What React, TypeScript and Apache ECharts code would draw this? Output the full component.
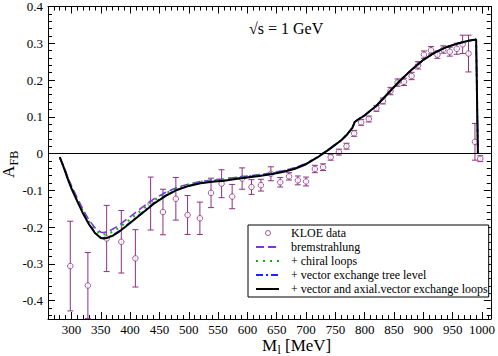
import React, { useEffect, useRef } from 'react';
import * as echarts from 'echarts';

const FAMILY = "'Liberation Serif', 'Times New Roman', serif";
const FONT = "'Liberation Serif', serif";

// KLOE data points: invariant mass M_l [MeV], A_FB, error
const dataMass = [298, 328, 360, 385, 409, 435, 456, 478, 498, 519, 538, 556, 574, 591, 607, 623, 640, 656, 671, 686, 700, 715, 729, 742, 756, 769, 782, 794, 807, 820, 831, 844, 856, 867, 880, 891, 901, 913, 924, 934, 945, 957, 967, 977, 988, 997];
const dataAfb = [-0.306, -0.359, -0.231, -0.240, -0.285, -0.136, -0.159, -0.123, -0.167, -0.176, -0.107, -0.082, -0.117, -0.068, -0.091, -0.086, -0.055, -0.078, -0.062, -0.073, -0.076, -0.042, -0.037, -0.010, 0.004, 0.020, 0.055, 0.085, 0.094, 0.123, 0.143, 0.170, 0.193, 0.195, 0.211, 0.240, 0.269, 0.281, 0.269, 0.283, 0.277, 0.285, 0.297, 0.272, 0.032, -0.014];
const dataErr = [0.122, 0.09, 0.09, 0.085, 0.078, 0.072, 0.062, 0.058, 0.053, 0.044, 0.04, 0.038, 0.033, 0.029, 0.02, 0.016, 0.019, 0.013, 0.01, 0.012, 0.012, 0.01, 0.009, 0.008, 0.008, 0.008, 0.008, 0.008, 0.008, 0.008, 0.008, 0.01, 0.01, 0.01, 0.01, 0.01, 0.01, 0.01, 0.01, 0.01, 0.012, 0.015, 0.025, 0.05, 0.05, 0.008];

// theory curves
const curveMass = [280, 285, 290, 295, 300, 310, 320, 330, 340, 350, 355, 360, 370, 380, 390, 400, 420, 440, 460, 480, 500, 520, 540, 560, 580, 600, 620, 640, 660, 680, 700, 720, 740, 760, 770, 779, 783, 790, 800, 820, 840, 860, 880, 900, 920, 940, 960, 977, 990, 993];
const loopsAfb = [-0.010, -0.030, -0.052, -0.075, -0.095, -0.130, -0.164, -0.193, -0.216, -0.230, -0.231, -0.230, -0.224, -0.214, -0.202, -0.189, -0.163, -0.137, -0.116, -0.099, -0.088, -0.081, -0.077, -0.074, -0.069, -0.065, -0.061, -0.056, -0.050, -0.042, -0.029, -0.010, 0.012, 0.036, 0.052, 0.070, 0.086, 0.094, 0.104, 0.130, 0.164, 0.198, 0.228, 0.255, 0.275, 0.290, 0.300, 0.307, 0.310, 0.000];
const bremsAfb = [-0.010, -0.028, -0.048, -0.069, -0.088, -0.121, -0.153, -0.181, -0.202, -0.214, -0.215, -0.213, -0.206, -0.196, -0.184, -0.172, -0.147, -0.124, -0.106, -0.092, -0.083, -0.076, -0.072, -0.069, -0.065, -0.061, -0.057, -0.053, -0.047, -0.039, -0.027, -0.009, 0.013, 0.036, 0.052, 0.070, 0.086, 0.094, 0.104, 0.130, 0.164, 0.198, 0.228, 0.255, 0.275, 0.290, 0.300, 0.307, 0.310, 0.000];
const chiralAfb = [-0.010, -0.029, -0.050, -0.072, -0.091, -0.125, -0.158, -0.186, -0.207, -0.219, -0.220, -0.219, -0.213, -0.203, -0.191, -0.179, -0.153, -0.128, -0.109, -0.094, -0.084, -0.077, -0.073, -0.070, -0.066, -0.062, -0.058, -0.054, -0.048, -0.040, -0.028, -0.009, 0.013, 0.036, 0.052, 0.070, 0.086, 0.094, 0.104, 0.130, 0.164, 0.198, 0.228, 0.255, 0.275, 0.290, 0.300, 0.307, 0.310, 0.000];
const vectorTreeAfb = [-0.010, -0.030, -0.051, -0.074, -0.094, -0.129, -0.162, -0.191, -0.214, -0.228, -0.229, -0.228, -0.222, -0.212, -0.200, -0.187, -0.161, -0.135, -0.114, -0.098, -0.087, -0.080, -0.076, -0.073, -0.068, -0.064, -0.060, -0.055, -0.049, -0.041, -0.028, -0.009, 0.013, 0.036, 0.052, 0.070, 0.086, 0.094, 0.104, 0.130, 0.164, 0.198, 0.228, 0.255, 0.275, 0.290, 0.300, 0.307, 0.310, 0.000];

const seriesNames = ['KLOE data', 'bremstrahlung', '+ chiral loops', '+ vector exchange tree level', '+ vector and axial.vector exchange loops'];

const X_MIN = 260;
const X_MAX = 1015;
const Y_MIN = -0.45;
const Y_MAX = 0.4;

const PURPLE = '#8a3480';

function pairs(ys: number[]) {
  return curveMass.map((m, i) => [m, ys[i]]);
}

function baseAxis(extra: any) {
  return {
    type: 'value',
    axisLine: { show: true, onZero: false, lineStyle: { color: '#000', width: 1 } },
    axisTick: { show: true, inside: true, length: 7, lineStyle: { color: '#000', width: 1 } },
    minorTick: { show: true, splitNumber: 5, length: 4, lineStyle: { color: '#000', width: 1 } },
    splitLine: { show: false },
    minorSplitLine: { show: false },
    ...extra,
  };
}

const hiddenSymbol = { color: 'rgba(0,0,0,0)', borderWidth: 0, opacity: 0 };

export default function App() {
  const ref = useRef<HTMLDivElement>(null);
  useEffect(() => {
    document.body.style.margin = '0';
    const chart = echarts.init(ref.current!, null, { renderer: 'svg' });
    const errData = dataMass.map((m, i) => [m, dataAfb[i] - dataErr[i], dataAfb[i] + dataErr[i]]);
    const option: any = {
      animation: false,
      backgroundColor: '#fff',
      textStyle: { fontFamily: FAMILY },
      grid: { left: 48, right: 7, top: 5, bottom: 37 },
      xAxis: [
        baseAxis({
          min: X_MIN, max: X_MAX, splitNumber: 16, position: 'bottom',
          axisLabel: {
            show: true, showMinLabel: false, showMaxLabel: false, margin: 4, color: '#000',
            fontFamily: FAMILY, fontSize: 13, formatter: (v: number) => String(v),
          },
        }),
        baseAxis({
          min: X_MIN, max: X_MAX, splitNumber: 16, position: 'top',
          axisLabel: { show: false },
        }),
      ],
      yAxis: [
        baseAxis({
          min: Y_MIN, max: Y_MAX, splitNumber: 9, position: 'left',
          axisLabel: { show: true, showMinLabel: false, showMaxLabel: true, margin: 5, color: '#000', fontFamily: FAMILY, fontSize: 13 },
        }),
        baseAxis({
          min: Y_MIN, max: Y_MAX, splitNumber: 9, position: 'right',
          axisLabel: { show: false },
        }),
      ],
      legend: {
        orient: 'vertical',
        left: 248,
        top: 225,
        padding: [2, 1, 2, 7],
        itemWidth: 23,
        itemHeight: 10,
        itemGap: 2,
        borderColor: '#000',
        borderWidth: 1,
        borderRadius: 0,
        backgroundColor: '#fff',
        selectedMode: false,
        textStyle: { fontFamily: FAMILY, fontSize: 12, color: '#000', lineHeight: 12, padding: [0, 0, 0, 7] },
        data: [
          { name: seriesNames[0], icon: 'path://M0,0 M23,10 M9.5,5 A2.5,2.5 0 1 0 14.5,5 A2.5,2.5 0 1 0 9.5,5 Z', itemStyle: { color: '#fff', borderColor: PURPLE, borderWidth: 1 } },
          { name: seriesNames[1], itemStyle: hiddenSymbol },
          { name: seriesNames[2], itemStyle: hiddenSymbol },
          { name: seriesNames[3], itemStyle: hiddenSymbol },
          { name: seriesNames[4], itemStyle: hiddenSymbol },
        ],
      },
      graphic: [
        {
          type: 'text', left: 249, top: 20, z: 10,
          style: { text: '√s = 1 GeV', font: `16px ${FONT}`, fill: '#000' },
        },
        {
          type: 'group', x: 262, y: 337, z: 10,
          children: [
            { type: 'text', x: 0, y: 0, style: { text: 'M', font: `17px ${FONT}`, fill: '#000', textVerticalAlign: 'top' } },
            { type: 'text', x: 15.5, y: 7, style: { text: 'l', font: `12px ${FONT}`, fill: '#000', textVerticalAlign: 'top' } },
            { type: 'text', x: 23, y: 0, style: { text: '[MeV]', font: `17px ${FONT}`, fill: '#000', textVerticalAlign: 'top' } },
          ],
        },
        {
          type: 'group', x: 8, y: 178, rotation: Math.PI / 2, z: 10,
          children: [
            { type: 'text', x: 0, y: 0, style: { text: 'A', font: `17px ${FONT}`, fill: '#000', textVerticalAlign: 'middle' } },
            { type: 'text', x: 12.5, y: 6, style: { text: 'FB', font: `12px ${FONT}`, fill: '#000', textVerticalAlign: 'middle' } },
          ],
        },
      ],
      series: [
        {
          name: 'errorbars',
          type: 'custom',
          silent: true,
          z: 2,
          data: errData,
          encode: { x: 0, y: [1, 2] },
          renderItem: (params: any, api: any) => {
            const cs = params.coordSys;
            const lo = api.coord([api.value(0), api.value(1)]);
            const hi = api.coord([api.value(0), api.value(2)]);
            const x = lo[0];
            const top = Math.max(hi[1], cs.y);
            const bot = Math.min(lo[1], cs.y + cs.height);
            const style = { stroke: PURPLE, lineWidth: 1 };
            const children: any[] = [
              { type: 'line', shape: { x1: x, y1: top, x2: x, y2: bot }, style },
            ];
            if (hi[1] >= cs.y) children.push({ type: 'line', shape: { x1: x - 3, y1: hi[1], x2: x + 3, y2: hi[1] }, style });
            if (lo[1] <= cs.y + cs.height) children.push({ type: 'line', shape: { x1: x - 3, y1: lo[1], x2: x + 3, y2: lo[1] }, style });
            return { type: 'group', children };
          },
        },
        {
          name: seriesNames[0],
          type: 'scatter',
          z: 3,
          symbol: 'circle',
          symbolSize: 5.5,
          itemStyle: { color: '#fff', borderColor: PURPLE, borderWidth: 1 },
          data: dataMass.map((m, i) => [m, dataAfb[i]]),
        },
        {
          name: seriesNames[1],
          type: 'line',
          symbol: 'none',
          z: 4,
          lineStyle: { color: '#7b35e0', width: 1.6, type: [8, 4] },
          itemStyle: { color: '#7b35e0' },
          data: pairs(bremsAfb),
        },
        {
          name: seriesNames[2],
          type: 'line',
          symbol: 'none',
          z: 5,
          lineStyle: { color: '#12b012', width: 2, type: [2, 5] },
          itemStyle: { color: '#12b012' },
          data: pairs(chiralAfb),
        },
        {
          name: seriesNames[3],
          type: 'line',
          symbol: 'none',
          z: 5,
          lineStyle: { color: '#1428ff', width: 1.5, type: [7, 3, 2, 3] },
          itemStyle: { color: '#1428ff' },
          data: pairs(vectorTreeAfb),
        },
        {
          name: seriesNames[4],
          type: 'line',
          symbol: 'none',
          z: 6,
          lineStyle: { color: '#000', width: 2 },
          itemStyle: { color: '#000' },
          data: pairs(loopsAfb),
          markLine: {
            silent: true,
            symbol: ['none', 'none'],
            label: { show: false },
            lineStyle: { color: '#000', width: 1, type: 'solid' },
            data: [{ yAxis: 0 }],
          },
        },
      ],
    };
    chart.setOption(option);
    return () => chart.dispose();
  }, []);
  return <div ref={ref} style={{ position: 'fixed', left: 0, top: 0, width: 498, height: 356 }} />;
}
